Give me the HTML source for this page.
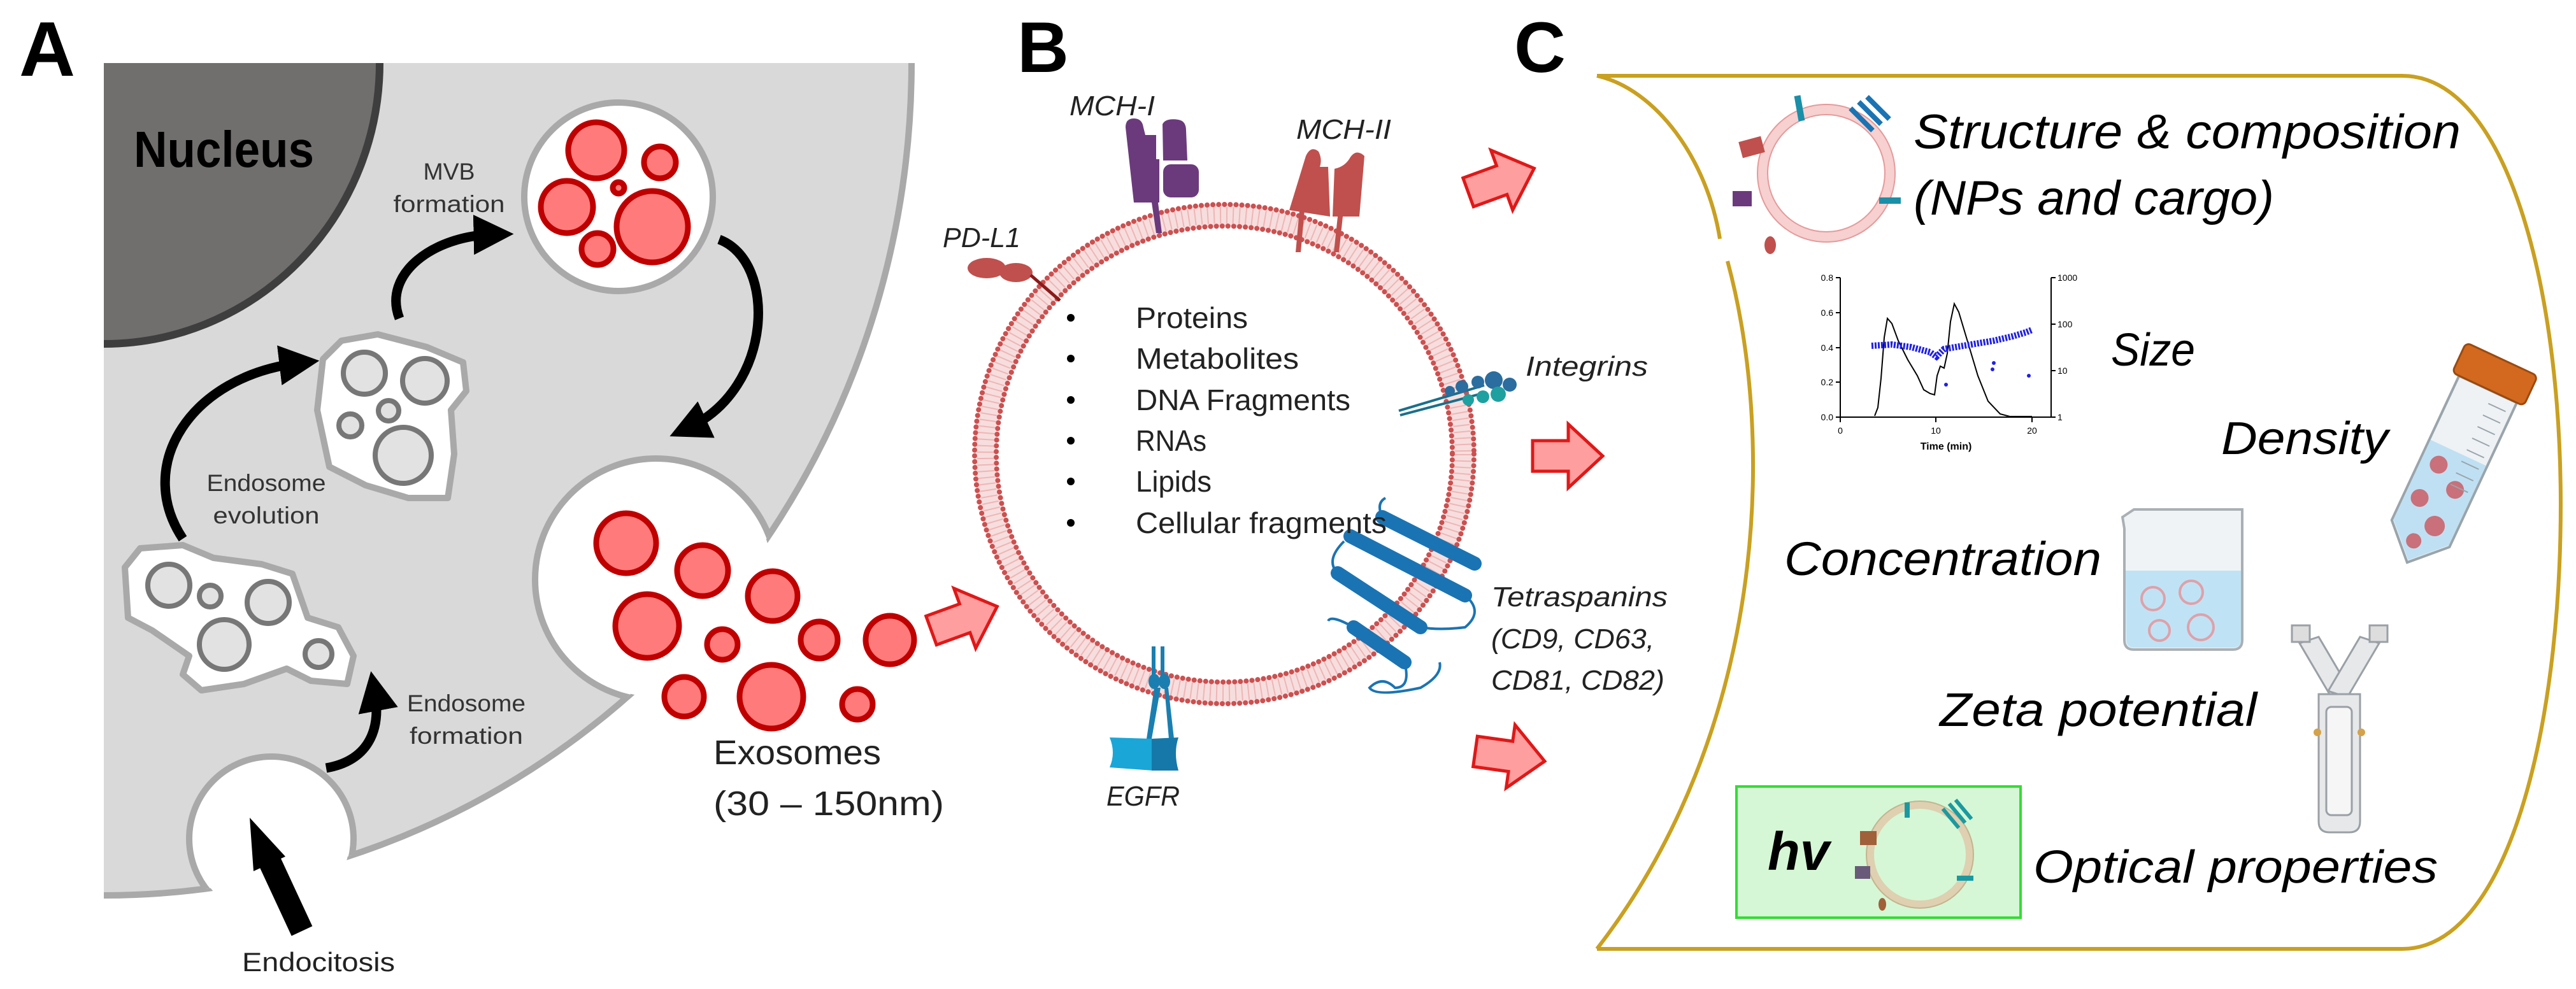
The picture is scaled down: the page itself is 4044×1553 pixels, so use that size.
<!DOCTYPE html>
<html><head><meta charset="utf-8"><style>html,body{margin:0;padding:0;background:#fff}svg{display:block}</style></head><body>
<svg width="4044" height="1553" viewBox="0 0 4044 1553" xmlns="http://www.w3.org/2000/svg" font-family="'Liberation Sans', sans-serif">
<defs>
<clipPath id="cellclip"><path d="M163,99 L1431,99 A1268 1307 0 0 1 163 1406 Z"/></clipPath>
<marker id="ah" viewBox="0 0 10 10" refX="5" refY="5" markerWidth="4.2" markerHeight="4.2" orient="auto"><path d="M0,0 L10,5 L0,10 Z" fill="#000"/></marker>
<g id="parrow"><path d="M0,-24 L56,-24 L56,-50 L110,0 L56,50 L56,24 L0,24 Z" fill="#ff9e9e" stroke="#e01818" stroke-width="5" stroke-linejoin="miter"/></g>
</defs>

<!-- ============ PANEL A ============ -->
<text x="30" y="119" font-size="122" font-weight="bold">A</text>
<path d="M163,99 L1431,99 A1268 1307 0 0 1 163 1406 Z" fill="#d9d9d9"/>
<path d="M1431,99 A1268 1307 0 0 1 163 1406" fill="none" stroke="#a9a9a9" stroke-width="10"/>
<path d="M163,99 L596,99 A433 441 0 0 1 163 540 Z" fill="#716e6e"/>
<path d="M596,99 A433 441 0 0 1 163 540" fill="none" stroke="#3e3e3e" stroke-width="12"/>
<text x="210" y="262" font-size="80" font-weight="bold" textLength="283" lengthAdjust="spacingAndGlyphs">Nucleus</text>

<!-- bud & pit -->
<g clip-path="url(#cellclip)">
<circle cx="1030" cy="910" r="190" fill="#fff" stroke="#a9a9a9" stroke-width="10"/>
<circle cx="426" cy="1317" r="129" fill="#fff" stroke="#a9a9a9" stroke-width="10"/>
</g>
<circle cx="1030" cy="910" r="184" fill="#fff"/>
<circle cx="426" cy="1317" r="123" fill="#fff"/>

<!-- MVB -->
<circle cx="971" cy="309" r="148" fill="#fff" stroke="#a9a9a9" stroke-width="10"/>
<g fill="#ff7b7b" stroke="#c00000" stroke-width="9">
<circle cx="936" cy="236" r="44"/><circle cx="1036" cy="255" r="25"/><circle cx="890" cy="325" r="41"/>
<circle cx="971" cy="295" r="9"/><circle cx="1024" cy="356" r="56"/><circle cx="938" cy="391" r="25"/>
</g>

<!-- Endosomes -->
<path d="M507,564 L536,535 L593,525 L670,545 L727,569 L732,614 L708,644 L713,713 L703,782 L641,782 L574,762 L517,733 L498,644 Z" fill="#fff" stroke="#a9a9a9" stroke-width="10" stroke-linejoin="round"/>
<g fill="#e2e2e2" stroke="#777" stroke-width="8">
<circle cx="572" cy="586" r="33"/><circle cx="667" cy="598" r="35"/><circle cx="610" cy="645" r="16"/><circle cx="550" cy="668" r="18"/><circle cx="633" cy="715" r="44"/>
</g>
<path d="M196,891 L220,861 L287,856 L335,876 L411,886 L459,901 L483,970 L531,985 L555,1030 L545,1074 L488,1069 L450,1050 L383,1074 L316,1084 L287,1059 L297,1030 L239,990 L201,970 Z" fill="#fff" stroke="#a9a9a9" stroke-width="10" stroke-linejoin="round"/>
<g fill="#e2e2e2" stroke="#777" stroke-width="8">
<circle cx="265" cy="919" r="33"/><circle cx="330" cy="936" r="17"/><circle cx="421" cy="946" r="33"/><circle cx="352" cy="1012" r="39"/><circle cx="500" cy="1027" r="21"/>
</g>

<!-- Exosomes -->
<g fill="#ff7b7b" stroke="#c00000" stroke-width="9">
<circle cx="983" cy="853" r="47"/><circle cx="1103" cy="896" r="40"/><circle cx="1213" cy="936" r="39"/>
<circle cx="1016" cy="983" r="50"/><circle cx="1134" cy="1012" r="24"/><circle cx="1286" cy="1005" r="29"/>
<circle cx="1397" cy="1005" r="38"/><circle cx="1074" cy="1094" r="31"/><circle cx="1211" cy="1094" r="50"/><circle cx="1346" cy="1106" r="24"/>
</g>

<!-- black arrows -->
<g fill="none" stroke="#000" stroke-width="15" stroke-linecap="butt">
<path d="M512,1206 C575,1195 600,1150 588,1085" marker-end="url(#ah)"/>
<path d="M287,846 C210,730 300,590 470,570" marker-end="url(#ah)"/>
<path d="M627,500 C600,430 680,370 775,368" marker-end="url(#ah)"/>
<path d="M1129,376 C1220,410 1215,610 1080,672" marker-end="url(#ah)"/>
</g>
<path d="M474,1462 L422,1350" stroke="#000" stroke-width="36"/>
<path d="M392,1284 L448,1345 L398,1368 Z" fill="#000"/>

<g font-size="37" fill="#333" text-anchor="middle">
<text x="705" y="282" textLength="81" lengthAdjust="spacingAndGlyphs">MVB</text>
<text x="705" y="333" textLength="175" lengthAdjust="spacingAndGlyphs">formation</text>
<text x="418" y="771" textLength="187" lengthAdjust="spacingAndGlyphs">Endosome</text>
<text x="418" y="822" textLength="167" lengthAdjust="spacingAndGlyphs">evolution</text>
<text x="732" y="1117" textLength="186" lengthAdjust="spacingAndGlyphs">Endosome</text>
<text x="732" y="1168" textLength="178" lengthAdjust="spacingAndGlyphs">formation</text>
</g>
<text x="1120" y="1200" font-size="54" fill="#222" textLength="263" lengthAdjust="spacingAndGlyphs">Exosomes</text>
<text x="1120" y="1280" font-size="54" fill="#222" textLength="362" lengthAdjust="spacingAndGlyphs">(30 – 150nm)</text>
<text x="500" y="1525" font-size="42" fill="#222" text-anchor="middle" textLength="240" lengthAdjust="spacingAndGlyphs">Endocitosis</text>

<!-- ============ PANEL B ============ -->
<text x="1597" y="113" font-size="112" font-weight="bold">B</text>
<text x="2377" y="113" font-size="112" font-weight="bold">C</text>

<use href="#parrow" transform="translate(1462,990) rotate(-20)"/>
<use href="#parrow" transform="translate(2305,302) rotate(-20)"/>
<use href="#parrow" transform="translate(2406,716)"/>
<use href="#parrow" transform="translate(2316,1180) rotate(8)"/>

<!-- membrane -->
<circle cx="1922" cy="713" r="375" fill="none" stroke="#f7dede" stroke-width="34"/>
<circle cx="1922" cy="713" r="375" fill="none" stroke="#efb5b5" stroke-width="26" stroke-dasharray="2 8"/>
<circle cx="1922" cy="713" r="392" fill="none" stroke="#cc5050" stroke-width="8" stroke-dasharray="0.1 9" stroke-linecap="round"/>
<circle cx="1922" cy="713" r="358" fill="none" stroke="#cc5050" stroke-width="8" stroke-dasharray="0.1 9" stroke-linecap="round"/>

<!-- MCH-I -->
<g fill="#6b3a7c">
<path d="M1767,200 Q1767,186 1780,186 Q1793,186 1795,200 L1798,212 L1815,212 L1815,250 L1820,250 L1820,318 L1780,318 Z"/>
<path d="M1825,195 Q1830,185 1850,188 Q1862,190 1862,205 L1864,252 L1826,252 Z"/>
<rect x="1826" y="258" width="56" height="52" rx="12"/>
<path d="M1808,318 L1818,318 L1824,366 L1815,366 Z"/>
</g>
<!-- MCH-II -->
<g fill="#c0504d">
<path d="M2024,330 L2050,245 Q2058,228 2070,238 Q2076,250 2072,262 L2085,262 L2088,340 Z"/>
<path d="M2092,340 L2095,265 Q2110,262 2118,250 Q2128,232 2142,245 L2134,340 Z"/>
<path d="M2040,330 L2048,330 L2042,396 L2034,396 Z"/>
<path d="M2100,340 L2108,340 L2102,396 L2094,396 Z"/>
</g>
<!-- PD-L1 -->
<g fill="#c0504d"><ellipse cx="1549" cy="421" rx="30" ry="16"/><ellipse cx="1595" cy="428" rx="26" ry="15"/></g>
<path d="M1618,432 L1664,472" stroke="#8b1a1a" stroke-width="5"/>
<!-- Integrins -->
<g stroke="#1a6f8a" stroke-width="4"><path d="M2196,645 L2330,605"/><path d="M2198,652 L2330,617"/></g>
<g fill="#2a6d9e"><circle cx="2345" cy="597" r="14"/><circle cx="2370" cy="604" r="11"/><circle cx="2320" cy="600" r="10"/><circle cx="2295" cy="607" r="10"/><circle cx="2276" cy="614" r="8"/></g>
<g fill="#1fa0a0"><circle cx="2352" cy="619" r="12"/><circle cx="2328" cy="623" r="10"/><circle cx="2305" cy="628" r="9"/></g>
<!-- Tetraspanins -->
<g stroke="#1a74b3" stroke-width="22" stroke-linecap="round" fill="none">
<path d="M2120,842 L2300,935"/><path d="M2170,812 L2315,885"/><path d="M2100,900 L2230,985"/><path d="M2125,985 L2205,1040"/>
</g>
<g stroke="#1a74b3" stroke-width="4" fill="none">
<path d="M2300,935 Q2330,960 2300,985 Q2260,990 2230,985"/><path d="M2100,900 Q2080,880 2110,850"/><path d="M2170,812 Q2160,790 2175,782"/><path d="M2125,985 Q2090,965 2085,975"/><path d="M2205,1040 Q2215,1080 2190,1080 Q2170,1060 2150,1080 Q2160,1095 2230,1080 Q2265,1060 2260,1040"/>
</g>
<!-- EGFR -->
<g fill="#1a7fb0">
<rect x="1808" y="1015" width="6" height="60"/><rect x="1822" y="1015" width="6" height="60"/>
<ellipse cx="1812" cy="1070" rx="9" ry="12"/><ellipse cx="1828" cy="1070" rx="9" ry="12"/>
<path d="M1812,1080 L1800,1160 L1808,1160 L1822,1080 Z"/><path d="M1828,1080 L1835,1160 L1843,1160 L1834,1080 Z"/>
<path d="M1742,1158 L1808,1160 L1810,1210 L1742,1205 Q1752,1182 1742,1158 Z" fill="#1aa6d6"/>
<path d="M1808,1160 L1850,1158 Q1842,1182 1850,1210 L1808,1210 Z" fill="#1678a8"/>
</g>

<g font-size="46" fill="#222">
<text x="1783" y="515" textLength="176" lengthAdjust="spacingAndGlyphs">Proteins</text>
<text x="1783" y="579" textLength="256" lengthAdjust="spacingAndGlyphs">Metabolites</text>
<text x="1783" y="644" textLength="337" lengthAdjust="spacingAndGlyphs">DNA Fragments</text>
<text x="1783" y="708" textLength="111" lengthAdjust="spacingAndGlyphs">RNAs</text>
<text x="1783" y="772" textLength="119" lengthAdjust="spacingAndGlyphs">Lipids</text>
<text x="1783" y="837" textLength="394" lengthAdjust="spacingAndGlyphs">Cellular fragments</text>
</g>
<g fill="#000"><circle cx="1681" cy="499" r="6"/><circle cx="1681" cy="563" r="6"/><circle cx="1681" cy="628" r="6"/><circle cx="1681" cy="692" r="6"/><circle cx="1681" cy="756" r="6"/><circle cx="1681" cy="821" r="6"/></g>

<g font-size="44" font-style="italic" fill="#222">
<text x="1679" y="181" textLength="134" lengthAdjust="spacingAndGlyphs">MCH-I</text>
<text x="2035" y="218" textLength="149" lengthAdjust="spacingAndGlyphs">MCH-II</text>
<text x="1480" y="388" textLength="122" lengthAdjust="spacingAndGlyphs">PD-L1</text>
<text x="2395" y="590" textLength="192" lengthAdjust="spacingAndGlyphs">Integrins</text>
<text x="2341" y="952" textLength="277" lengthAdjust="spacingAndGlyphs">Tetraspanins</text>
<text x="2341" y="1018" textLength="256" lengthAdjust="spacingAndGlyphs">(CD9, CD63,</text>
<text x="2341" y="1083" textLength="272" lengthAdjust="spacingAndGlyphs">CD81, CD82)</text>
<text x="1737" y="1265" textLength="115" lengthAdjust="spacingAndGlyphs">EGFR</text>
</g>

<!-- ============ PANEL C ============ -->
<g fill="none" stroke="#c9a020" stroke-width="6">
<path d="M2507,119 L3771,119 C3935,119 4020,450 4020,792 C4020,1150 3935,1490 3771,1490 L2507,1490"/>
<path d="M2507,119 C2600,140 2680,250 2700,375"/>
<path d="M2712,410 C2790,700 2770,1150 2507,1490"/>
</g>

<!-- top vesicle icon -->
<g>
<circle cx="2867" cy="272" r="100" fill="none" stroke="#f7d0d0" stroke-width="16"/>
<circle cx="2867" cy="272" r="108" fill="none" stroke="#e59a9a" stroke-width="2"/>
<circle cx="2867" cy="272" r="92" fill="none" stroke="#e59a9a" stroke-width="2"/>
<rect x="2732" y="218" width="36" height="26" fill="#c0504d" transform="rotate(-15 2750 231)"/>
<rect x="2720" y="300" width="30" height="24" fill="#6b3a7c"/>
<ellipse cx="2779" cy="385" rx="9" ry="14" fill="#c0504d"/>
<rect x="2820" y="150" width="10" height="40" fill="#1a8fa8" transform="rotate(-10 2825 170)"/>
<g stroke="#1a74b3" stroke-width="8"><path d="M2905,170 L2940,205"/><path d="M2918,160 L2953,195"/><path d="M2931,152 L2966,187"/></g>
<rect x="2950" y="310" width="34" height="10" fill="#1a8fa8"/>
</g>
<g font-size="76" font-style="italic" fill="#000">
<text x="3004" y="233" textLength="859" lengthAdjust="spacingAndGlyphs">Structure &amp; composition</text>
<text x="3004" y="337" textLength="566" lengthAdjust="spacingAndGlyphs">(NPs and cargo)</text>
<text x="3314" y="574" font-size="72" textLength="132" lengthAdjust="spacingAndGlyphs">Size</text>
<text x="3487" y="713" font-size="72" textLength="262" lengthAdjust="spacingAndGlyphs">Density</text>
<text x="2801" y="903" font-size="74" textLength="498" lengthAdjust="spacingAndGlyphs">Concentration</text>
<text x="3045" y="1140" font-size="74" textLength="498" lengthAdjust="spacingAndGlyphs">Zeta potential</text>
<text x="3192" y="1386" font-size="72" textLength="635" lengthAdjust="spacingAndGlyphs">Optical properties</text>
</g>

<!-- chart -->
<g stroke="#000" stroke-width="2" fill="none">
<path d="M2889,436 L2889,655 L3220,655 L3220,436"/>
<path d="M2882,436 L2889,436 M2882,491 L2889,491 M2882,546 L2889,546 M2882,600 L2889,600 M2882,655 L2889,655"/>
<path d="M3220,436 L3227,436 M3220,509 L3227,509 M3220,582 L3227,582 M3220,655 L3227,655"/>
<path d="M2889,655 L2889,663 M3039,655 L3039,663 M3190,655 L3190,663"/>
<path d="M2943,653 L2948,640 L2953,594 L2958,530 L2963,500 L2970,508 L2980,535 L2995,565 L3010,590 L3020,612 L3030,618 L3037,620 L3041,590 L3046,575 L3052,578 L3057,555 L3062,505 L3068,477 L3075,490 L3090,540 L3105,590 L3121,630 L3140,650 L3155,654 L3190,654"/>
</g>
<path d="M2938,543 L2970,541 L3000,545 L3030,553 L3040,560 L3052,548 L3070,545 L3100,540 L3130,535 L3160,528 L3180,522 L3190,518" fill="none" stroke="#2020e8" stroke-width="10" stroke-dasharray="3 2"/>
<g fill="#2020e8"><circle cx="3055" cy="604" r="3"/><circle cx="3128" cy="580" r="3"/><circle cx="3185" cy="590" r="3"/><circle cx="3130" cy="570" r="3"/></g>
<g font-size="14" fill="#000">
<g text-anchor="end"><text x="2878" y="441">0.8</text><text x="2878" y="496">0.6</text><text x="2878" y="551">0.4</text><text x="2878" y="605">0.2</text><text x="2878" y="660">0.0</text></g>
<text x="3230" y="441">1000</text><text x="3230" y="514">100</text><text x="3230" y="587">10</text><text x="3230" y="660">1</text>
<g text-anchor="middle"><text x="2889" y="681">0</text><text x="3039" y="681">10</text><text x="3190" y="681">20</text>
<text x="3055" y="706" font-size="16" font-weight="bold">Time (min)</text></g>
</g>

<!-- tube -->
<g transform="translate(3855,720) rotate(25)">
<path d="M-50,-120 L50,-120 L50,130 L0,180 L-50,130 Z" fill="#eef2f5" stroke="#9aa4ab" stroke-width="4"/>
<path d="M-48,-10 L48,-10 L48,128 L0,176 L-48,128 Z" fill="#bfe0f2"/>
<g fill="#c9707a"><circle cx="-20" cy="20" r="14"/><circle cx="20" cy="45" r="14"/><circle cx="-25" cy="80" r="14"/><circle cx="15" cy="110" r="16"/><circle cx="-5" cy="145" r="12"/></g>
<g stroke="#9aa4ab" stroke-width="2"><path d="M10,-100 L40,-100 M10,-80 L40,-80 M10,-60 L40,-60 M10,-40 L40,-40 M10,-20 L40,-20 M10,0 L40,0 M10,20 L40,20 M10,40 L40,40"/></g>
<rect x="-62" y="-172" width="124" height="52" rx="8" fill="#d2691e" stroke="#9a4a10" stroke-width="3"/>
</g>

<!-- beaker -->
<path d="M3332,812 L3350,800 L3520,800 L3520,1005 Q3520,1020 3505,1020 L3350,1020 Q3335,1020 3335,1005 L3335,830 Z" fill="#f0f3f5" stroke="#a9b0b5" stroke-width="4"/>
<path d="M3337,896 L3518,896 L3518,1004 Q3518,1017 3505,1017 L3350,1017 Q3338,1017 3338,1004 Z" fill="#bfe3f5"/>
<g fill="none" stroke="#e0a0a8" stroke-width="4"><circle cx="3380" cy="940" r="18"/><circle cx="3440" cy="930" r="18"/><circle cx="3390" cy="990" r="16"/><circle cx="3455" cy="985" r="20"/></g>

<!-- zeta cell -->
<g fill="#e6e8ea" stroke="#9aa0a5" stroke-width="3">
<path d="M3610,1010 L3640,1000 L3690,1085 L3660,1095 Z"/>
<path d="M3735,1010 L3705,1000 L3655,1085 L3685,1095 Z"/>
<rect x="3598" y="982" width="28" height="26" fill="#ddd"/><rect x="3720" y="982" width="28" height="26" fill="#ddd"/>
<path d="M3640,1090 L3705,1090 L3705,1290 Q3705,1307 3688,1307 L3657,1307 Q3640,1307 3640,1290 Z"/>
<rect x="3652" y="1110" width="40" height="170" rx="8" fill="#f6f6f6"/>
</g>
<circle cx="3638" cy="1150" r="6" fill="#d4a24a"/><circle cx="3707" cy="1150" r="6" fill="#d4a24a"/>

<!-- green box -->
<rect x="2726" y="1235" width="446" height="206" fill="#d5f7d5" stroke="#33dd33" stroke-width="4"/>
<text x="2775" y="1366" font-size="84" font-weight="bold" font-style="italic" textLength="97" lengthAdjust="spacingAndGlyphs">hv</text>
<circle cx="3014" cy="1342" r="78" fill="none" stroke="#ded0b0" stroke-width="12"/>
<circle cx="3014" cy="1342" r="84" fill="none" stroke="#c4b490" stroke-width="2"/>
<rect x="2920" y="1305" width="26" height="22" fill="#a0603a"/>
<rect x="2912" y="1360" width="24" height="20" fill="#6a5a7a"/>
<ellipse cx="2955" cy="1420" rx="6" ry="10" fill="#a0603a"/>
<g stroke="#1a9aa0" stroke-width="6"><path d="M3050,1270 L3075,1300"/><path d="M3060,1262 L3085,1292"/><path d="M3070,1256 L3095,1286"/></g>
<rect x="3072" y="1375" width="26" height="8" fill="#1a9aa0"/>
<rect x="2990" y="1260" width="8" height="24" fill="#1a9aa0"/>
</svg>
</body></html>
